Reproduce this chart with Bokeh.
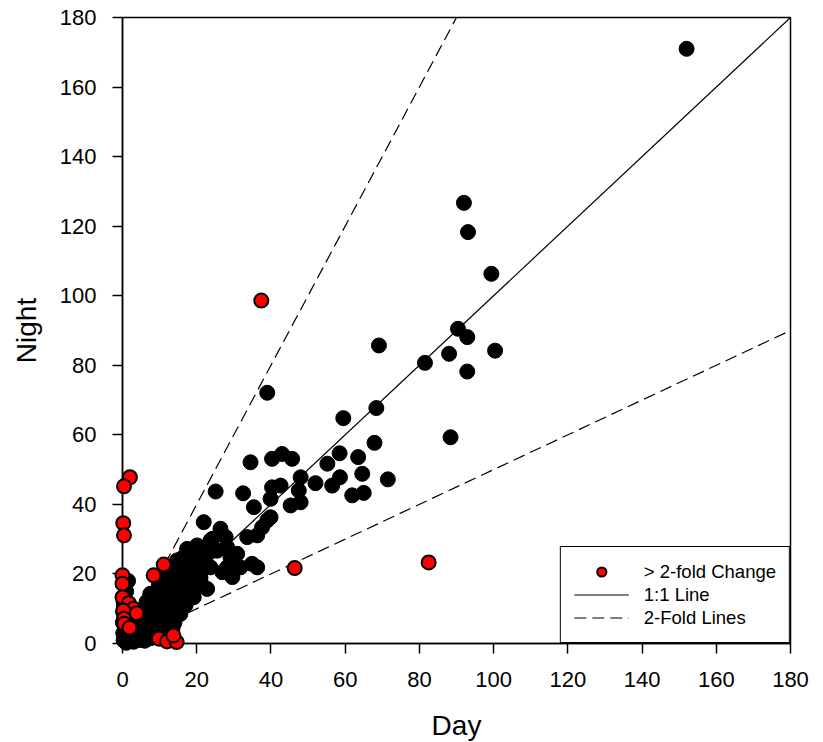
from bokeh.plotting import figure
from bokeh.models import Range1d, Legend, LegendItem, ColumnDataSource, FixedTicker
from bokeh.embed import file_html
from bokeh.resources import INLINE

# ---- data ----
black_day = [152, 92, 93.1, 99.4, 69.1, 90.4, 92.9, 100.4, 88, 92.9, 81.5, 39, 68.4, 59.5,
             67.9, 88.4, 34.5, 40.3, 43, 45.7, 58.5, 55.2, 63.5, 64.6, 58.6, 56.5, 71.5, 61.9,
             65, 52, 48, 47.5, 25.1, 32.5, 35.4, 40.3, 42.6, 39.9, 45.3, 48, 21.9, 26.4, 39,
             37.6, 33.6, 27.8, 39.9, 23.7, 28.2, 30.9, 36.3, 34.9, 36.3, 31.8, 29.6, 26.9, 23.7,
             21, 18.3, 22.8, 19.2, 14.7, 15.6, 12.9, 10.7, 8.4, 4.9, 2.2, 0.3, 7.5, 9.8, 12,
             14.7, 17.4, 20.1, 18.8, 24.2, 29.1, 25.5, 28.2,
             0.5, 1.0, 1.2, 2.0, 2.5, 3.0, 0.8, 1.5, 3.5, 4.0, 2.8, 4.5, 5.0, 5.5, 6.0, 6.5,
             7.0, 7.5, 8.0, 8.5, 9.0, 7.0, 6.0, 8.0, 9.5, 10.0, 10.5, 11.0, 9.5, 11.0, 12.0,
             12.5, 13.0, 13.5, 12.0, 14.0, 15.0, 15.5, 16.0, 14.5, 13.0, 11.5, 10.0, 8.5, 17.0,
             17.5, 18.0, 16.5, 15.0, 19.0, 20.0, 19.5, 18.0, 21.0, 22.0, 20.5, 17.0, 14.5, 13.0,
             16.0, 12.0, 0.2, 0.4, 0.3, 5.5, 10.5, 13.5, 3.0, 6.5,
             0.1, 0.2, 0.3, 1.0, 1.5, 16.5, 19.0, 23.0]
black_night = [171, 126.7, 118.3, 106.3, 85.7, 90.5, 88.1, 84.2, 83.3, 78.2, 80.7, 72.1, 67.7, 64.8,
               57.7, 59.3, 52.1, 53.1, 54.5, 53.1, 54.7, 51.7, 53.6, 48.8, 47.8, 45.4, 47.2, 42.6,
               43.3, 46.1, 47.8, 44, 43.7, 43.2, 39.2, 44.9, 45.4, 41.6, 39.7, 40.6, 34.9, 33, 35.4,
               33.4, 30.6, 30.6, 36.3, 29.6, 27.7, 25.8, 31.1, 22.9, 21.9, 21.9, 19.1, 20.5, 21.9,
               18.1, 16.2, 15.7, 13.3, 11.9, 8.5, 6.6, 4.2, 2.3, 1.8, 0.9, 0.9, 14.3, 16.7, 19.1,
               23.9, 27.2, 28.2, 26.3, 30.1, 24.8, 26.7, 21.9,
               1.5, 0.2, 2.5, 1.0, 3.0, 0.5, 4.0, 5.5, 2.0, 4.0, 6.0, 1.0, 3.0, 5.5, 0.8, 2.5,
               4.5, 1.5, 3.0, 5.0, 7.0, 7.5, 9.0, 10.0, 2.5, 4.5, 6.5, 9.0, 11.0, 12.0, 5.0,
               8.0, 10.5, 13.0, 14.0, 6.0, 9.0, 12.0, 14.5, 16.0, 17.0, 16.0, 14.0, 12.5, 11.0,
               16.0, 18.5, 19.0, 19.5, 14.0, 17.0, 20.0, 21.5, 19.0, 22.0, 24.0, 23.0, 22.0, 20.0,
               24.5, 19.0, 3.0, 11.0, 13.5, 7.5, 2.0, 4.5, 8.0, 12.0,
               6.0, 9.0, 12.0, 15.0, 18.0, 22.0, 25.5, 26.0]

red_day = [37.4, 2.0, 0.4, 0.2, 0.4, 0.0, 0.0, 0.0, 1.7, 3.0, 3.8, 0.2, 0.4, 0.5, 1.9,
           11.1, 8.4, 46.4, 82.5, 9.8, 12.0, 14.6, 13.7]
red_night = [98.6, 47.8, 45.2, 34.6, 31.1, 19.6, 17.2, 13.3, 11.6, 10.0, 8.7, 9.5, 7.1, 5.7, 4.5,
             22.7, 19.6, 21.7, 23.3, 1.4, 0.6, 0.4, 2.3]

# reference lines
one_x = [0, 180]
one_y = [0, 180]
hi_x = [0, 90]
hi_y = [0, 180]
lo_x = [0, 180]
lo_y = [0, 90]

ticks = [0, 20, 40, 60, 80, 100, 120, 140, 160, 180]

FONT = "Liberation Sans"

p = figure(frame_width=668, frame_height=626,
           x_range=Range1d(0, 180), y_range=Range1d(0, 180),
           output_backend="svg", toolbar_location=None,
           min_border_left=122, min_border_right=25, min_border_top=17, min_border_bottom=99,
           background_fill_color="white", border_fill_color="white")

p.grid.visible = False
p.outline_line_color = "black"
p.outline_line_width = 1.5
p.outline_line_alpha = 1

for ax in (p.xaxis[0], p.yaxis[0]):
    ax.ticker = FixedTicker(ticks=ticks)
    ax.axis_line_width = 1.5
    ax.axis_line_color = "black"
    ax.major_tick_line_width = 1.5
    ax.major_tick_line_color = "black"
    ax.major_tick_out = 10
    ax.major_tick_in = 0
    ax.minor_tick_line_color = None
    ax.major_label_text_font = FONT
    ax.major_label_text_font_size = "22px"
    ax.major_label_text_color = "black"
    ax.axis_label_text_font = FONT
    ax.axis_label_text_font_size = "28px"
    ax.axis_label_text_font_style = "normal"
    ax.axis_label_text_color = "black"

p.xaxis.axis_label = "Day"
p.yaxis.axis_label = "Night"
p.xaxis.major_label_standoff = 18
p.yaxis.major_label_standoff = 16
p.xaxis.axis_label_standoff = 20
p.yaxis.axis_label_standoff = 15

r_one = p.line(one_x, one_y, line_color="black", line_width=1.2)
r_hi = p.line(hi_x, hi_y, line_color="black", line_width=1.2, line_dash="12 6")
r_lo = p.line(lo_x, lo_y, line_color="black", line_width=1.2, line_dash="12 6")

bsrc = ColumnDataSource(dict(x=black_day, y=black_night))
rsrc = ColumnDataSource(dict(x=red_day, y=red_night))
r_black = p.scatter("x", "y", source=bsrc, size=15, fill_color="black", line_color="black",
                    line_width=1, level="overlay")
r_red = p.scatter("x", "y", source=rsrc, size=14, fill_color="#ff0000", line_color="black",
                  line_width=2, level="overlay")

legend = Legend(items=[LegendItem(label="> 2-fold Change", renderers=[r_red]),
                       LegendItem(label="1:1 Line", renderers=[r_one]),
                       LegendItem(label="2-Fold Lines", renderers=[r_hi])],
                location="bottom_right", margin=0, padding=13, spacing=0,
                glyph_width=55, glyph_height=23, label_height=22, label_standoff=15,
                label_text_font=FONT, label_text_font_size="18.5px", label_text_color="black",
                border_line_color="black", border_line_width=1.5, border_line_alpha=1,
                background_fill_color="white", background_fill_alpha=1)
p.add_layout(legend)

open("out.html", "w").write(file_html(p, INLINE))
